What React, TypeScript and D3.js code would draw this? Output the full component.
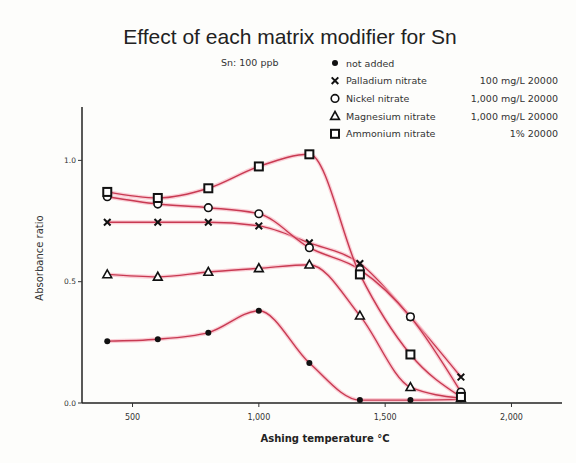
import React from "react";
import * as d3 from "d3";

// Ashing temperatures (°C) at which absorbance was measured
const temperatures = [400, 600, 800, 1000, 1200, 1400, 1600, 1800];

// Absorbance ratio for each modifier
const notAdded = [0.255, 0.263, 0.29, 0.38, 0.165, 0.012, 0.012, 0.015];
const palladiumNitrate = [0.745, 0.745, 0.745, 0.73, 0.66, 0.575, 0.355, 0.107];
const nickelNitrate = [0.85, 0.82, 0.805, 0.78, 0.64, 0.55, 0.355, 0.045];
const magnesiumNitrate = [0.53, 0.52, 0.54, 0.555, 0.57, 0.36, 0.065, 0.02];
const ammoniumNitrate = [0.87, 0.845, 0.885, 0.975, 1.025, 0.53, 0.2, 0.025];

const seriesNames = [
  "not added",
  "Palladium nitrate",
  "Nickel nitrate",
  "Magnesium nitrate",
  "Ammonium nitrate",
];
const seriesNotes = ["", "100 mg/L 20000", "1,000 mg/L 20000", "1,000 mg/L 20000", "1% 20000"];
const seriesMarkers = ["dot", "cross", "circle", "triangle", "square"];

const xTicks = [500, 1000, 1500, 2000];
const yTicks = [0, 0.5, 1.0];

const W = 576;
const H = 463;

const x = d3.scaleLinear().domain([300, 2200]).range([82, 562]);
const y = d3.scaleLinear().domain([0, 1.22]).range([403, 107]);

const TITLE_FONT = "'Liberation Sans', Arial, sans-serif";
const FONT = "'DejaVu Sans', Verdana, sans-serif";

function Marker({ kind, cx, cy }: { kind: string; cx: number; cy: number }) {
  const c = "#111";
  switch (kind) {
    case "dot":
      return <circle cx={cx} cy={cy} r={3} fill={c} />;
    case "cross":
      return (
        <path
          d={`M${cx - 3.3},${cy - 3.3}L${cx + 3.3},${cy + 3.3}M${cx - 3.3},${cy + 3.3}L${cx + 3.3},${cy - 3.3}`}
          stroke={c}
          strokeWidth={2}
        />
      );
    case "circle":
      return <circle cx={cx} cy={cy} r={3.8} fill="white" stroke={c} strokeWidth={1.6} />;
    case "triangle":
      return (
        <path
          d={`M${cx},${cy - 4.6}L${cx + 4.4},${cy + 3.3}L${cx - 4.4},${cy + 3.3}Z`}
          fill="white"
          stroke={c}
          strokeWidth={1.6}
        />
      );
    default:
      return <rect x={cx - 4} y={cy - 4} width={8} height={8} fill="white" stroke={c} strokeWidth={2} />;
  }
}

export default function App() {
  const allSeries = [notAdded, palladiumNitrate, nickelNitrate, magnesiumNitrate, ammoniumNitrate];
  const line = d3
    .line<number>()
    .x((_, i) => x(temperatures[i]))
    .y((v) => y(v))
    .curve(d3.curveMonotoneX);

  return (
    <svg
      width={W}
      height={H}
      style={{ position: "absolute", left: 0, top: 0, background: "#fdfdfb" }}
      fontFamily={FONT}
    >
      <text x={290} y={44} textAnchor="middle" fontSize={21} fill="#222" fontFamily={TITLE_FONT}>
        Effect of each matrix modifier for Sn
      </text>
      <text x={221} y={66} fontSize={9.5} fill="#333">
        Sn: 100 ppb
      </text>

      {/* legend */}
      {seriesNames.map((name, i) => {
        const ly = 63 + i * 17.7;
        return (
          <g key={name}>
            <Marker kind={seriesMarkers[i]} cx={335} cy={ly} />
            <text x={346} y={ly + 3.5} fontSize={9.5} fill="#333">
              {name}
            </text>
            <text x={558} y={ly + 3.5} fontSize={9.5} fill="#333" textAnchor="end">
              {seriesNotes[i]}
            </text>
          </g>
        );
      })}

      {/* axes */}
      <line x1={x.range()[0]} x2={x.range()[1]} y1={403} y2={403} stroke="#222" strokeWidth={1.5} />
      <line x1={82} x2={82} y1={y.range()[1]} y2={403} stroke="#222" strokeWidth={1.5} />
      {xTicks.map((t) => (
        <g key={t}>
          <line x1={x(t)} x2={x(t)} y1={403} y2={407} stroke="#333" />
          <text x={x(t)} y={420} fontSize={8} textAnchor="middle" fill="#333">
            {d3.format(",")(t)}
          </text>
        </g>
      ))}
      {yTicks.map((t) => (
        <g key={t}>
          <line x1={78} x2={82} y1={y(t)} y2={y(t)} stroke="#333" />
          <text x={76} y={y(t) + 2.8} fontSize={7.5} textAnchor="end" fill="#333">
            {d3.format(".1f")(t)}
          </text>
        </g>
      ))}
      <text x={325} y={442} fontSize={10} textAnchor="middle" fill="#222" fontWeight="bold">
        Ashing temperature °C
      </text>
      <text
        transform="translate(43,258) rotate(-90)"
        fontSize={10}
        textAnchor="middle"
        fill="#333"
      >
        Absorbance ratio
      </text>

      {/* curves */}
      {allSeries.map((vals, i) => (
        <g key={"l" + i}>
          <path d={line(vals) ?? ""} fill="none" stroke="#f7a9b8" strokeWidth={4} opacity={0.55} />
          <path d={line(vals) ?? ""} fill="none" stroke="#c83a52" strokeWidth={1.4} />
        </g>
      ))}

      {/* markers */}
      {allSeries.map((vals, i) =>
        vals.map((v, j) => (
          <Marker key={`m${i}-${j}`} kind={seriesMarkers[i]} cx={x(temperatures[j])} cy={y(v)} />
        ))
      )}
    </svg>
  );
}
